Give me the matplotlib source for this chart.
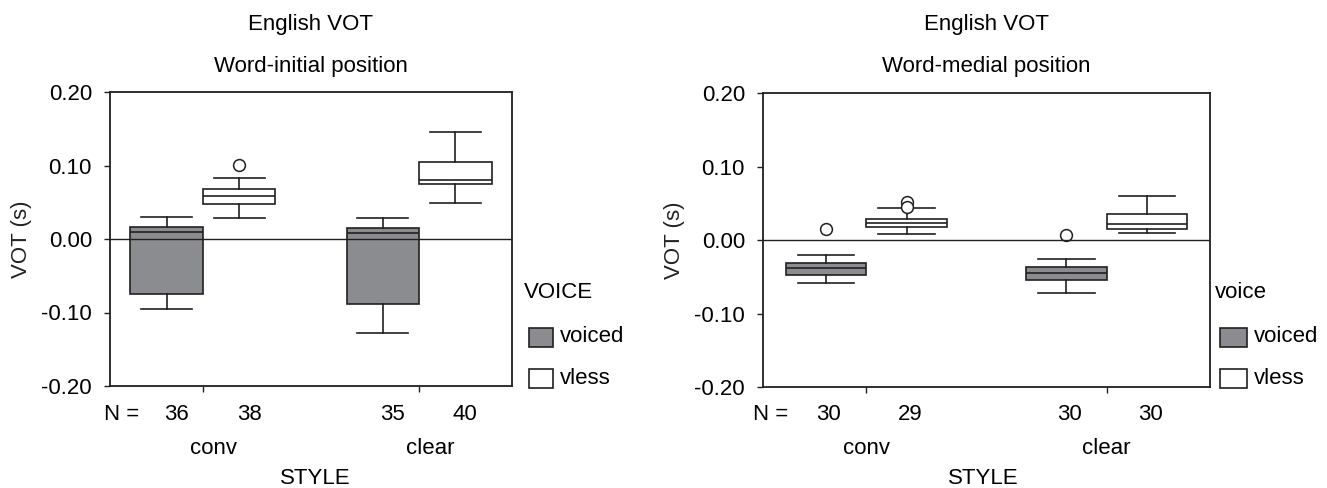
import matplotlib
matplotlib.use('Agg')
import matplotlib.pyplot as plt
from matplotlib.patches import Rectangle

plt.rcParams['font.family'] = ['Liberation Sans', 'DejaVu Sans']

# ============================================================================
# DATA
# order: conv/voiced, conv/vless, clear/voiced, clear/vless
# ============================================================================
STYLES = ['conv', 'clear']
VOICES = ['voiced', 'vless']

init_whislo = [-0.095, 0.029, -0.128, 0.0495]
init_q1 = [-0.075, 0.048, -0.088, 0.075]
init_med = [0.009, 0.059, 0.0077, 0.0806]
init_q3 = [0.0167, 0.068, 0.0144, 0.1045]
init_whishi = [0.0293, 0.0824, 0.029, 0.145]
init_fliers = [[], [0.1005], [], []]
init_n = [36, 38, 35, 40]

med_whislo = [-0.059, 0.0086, -0.0716, 0.009]
med_q1 = [-0.0477, 0.018, -0.055, 0.0149]
med_med = [-0.0383, 0.0234, -0.0455, 0.0216]
med_q3 = [-0.0311, 0.0288, -0.0369, 0.0347]
med_whishi = [-0.0203, 0.0437, -0.0257, 0.0604]
med_fliers = [[0.0144], [0.0514, 0.045], [0.0072], []]
med_n = [30, 29, 30, 30]

Y_TICKS = [-0.20, -0.10, 0.00, 0.10, 0.20]

GRAY = '#8b8c8f'
EDGE = '#231f20'
FS = 16
PT = 0.72  # points per pixel at dpi 100

W, H = 1327, 488
fig = plt.figure(figsize=(W / 100, H / 100), dpi=100)


def px_box(x0, y0, x1, y1):
    """Axes rectangle from pixel corners (top-left origin)."""
    return [x0 / W, 1 - y1 / H, (x1 - x0) / W, (y1 - y0) / H]


def make_stats(whislo, q1, med, q3, whishi, fliers):
    return [dict(whislo=a, q1=b, med=c, q3=d, whishi=e, fliers=f)
            for a, b, c, d, e, f in zip(whislo, q1, med, q3, whishi, fliers)]


def draw_panel(rect, stats, ns, subtitle, legend_title, legend_x, patch_w,
               n_offset, cat_offset, style_x, neq_offset):
    ax = fig.add_axes(px_box(*rect))
    half = 0.168
    positions = [1 - half, 1 + half, 2 - half, 2 + half]
    bp = ax.bxp(stats, positions=positions, widths=0.335, capwidths=0.235,
                patch_artist=True, manage_ticks=False,
                boxprops=dict(edgecolor=EDGE, linewidth=1.2),
                medianprops=dict(color=EDGE, linewidth=1.2),
                whiskerprops=dict(color=EDGE, linewidth=1.2),
                capprops=dict(color=EDGE, linewidth=1.2),
                flierprops=dict(marker='o', markerfacecolor='white',
                                markeredgecolor=EDGE, markersize=8.5,
                                markeredgewidth=1.1))
    for i, box in enumerate(bp['boxes']):
        box.set_facecolor(GRAY if i % 2 == 0 else 'white')

    ax.axhline(0, color=EDGE, lw=1.0, zorder=3)
    ax.set_xlim(0.57, 2.43)
    ax.set_ylim(-0.2, 0.2)
    ax.set_yticks(Y_TICKS)
    ax.set_yticklabels([f'{v:.2f}' for v in Y_TICKS], fontsize=FS)
    ax.set_xticks([1, 2])
    ax.set_xticklabels([])
    ax.tick_params(axis='both', direction='out', length=4, width=1.0,
                   color=EDGE, pad=9)
    for s in ax.spines.values():
        s.set_linewidth(1.3)
        s.set_color(EDGE)
    ax.set_ylabel('VOT (s)', fontsize=FS, color='#222')
    ax.yaxis.set_label_coords(-78 / (rect[2] - rect[0]), 0.5)

    # N counts under each box
    tr = ax.get_xaxis_transform()
    ax.annotate('N =', xy=(0, 0), xycoords='axes fraction',
                xytext=(neq_offset * PT, -28 * PT), textcoords='offset points',
                ha='center', va='center', fontsize=FS)
    for p, n in zip(positions, ns):
        ax.annotate(str(n), xy=(p, 0), xycoords=tr,
                    xytext=(n_offset * PT, -28 * PT), textcoords='offset points',
                    ha='center', va='center', fontsize=FS)
    for c, lab in zip([1, 2], STYLES):
        ax.annotate(lab, xy=(c, 0), xycoords=tr,
                    xytext=(cat_offset * PT, -62 * PT), textcoords='offset points',
                    ha='center', va='center', fontsize=FS)
    fig.text(style_x / W, 1 - 478 / H, 'STYLE', ha='center', va='center',
             fontsize=FS)

    # titles
    cx = (rect[0] + rect[2]) / 2 / W
    fig.text(cx, 1 - 30 / H, 'English VOT', ha='center', va='baseline', fontsize=FS)
    fig.text(cx, 1 - 72 / H, subtitle, ha='center', va='baseline', fontsize=FS)

    # legend
    fig.text(legend_x / W, 1 - 293 / H, legend_title, ha='left', va='center',
             fontsize=FS)
    for k, (lab, col) in enumerate(zip(VOICES, [GRAY, 'white'])):
        y0 = 328 + k * 41
        fig.add_artist(Rectangle(((legend_x + 5) / W, 1 - (y0 + 19) / H),
                                 patch_w / W, 19 / H, transform=fig.transFigure,
                                 facecolor=col, edgecolor=EDGE, linewidth=1.2))
        fig.text((legend_x + 12 + patch_w) / W, 1 - (y0 + 9) / H, lab,
                 ha='left', va='center', fontsize=FS)
    return ax


draw_panel((110, 92, 512, 386),
           make_stats(init_whislo, init_q1, init_med, init_q3, init_whishi, init_fliers),
           init_n, 'Word-initial position', 'VOICE', 524, 24, 10, 11, 315, 12)
draw_panel((763, 93, 1210, 387),
           make_stats(med_whislo, med_q1, med_med, med_q3, med_whishi, med_fliers),
           med_n, 'Word-medial position', 'voice', 1215, 27, 3, 0, 983, 8)

fig.savefig('out.png', dpi=100)
